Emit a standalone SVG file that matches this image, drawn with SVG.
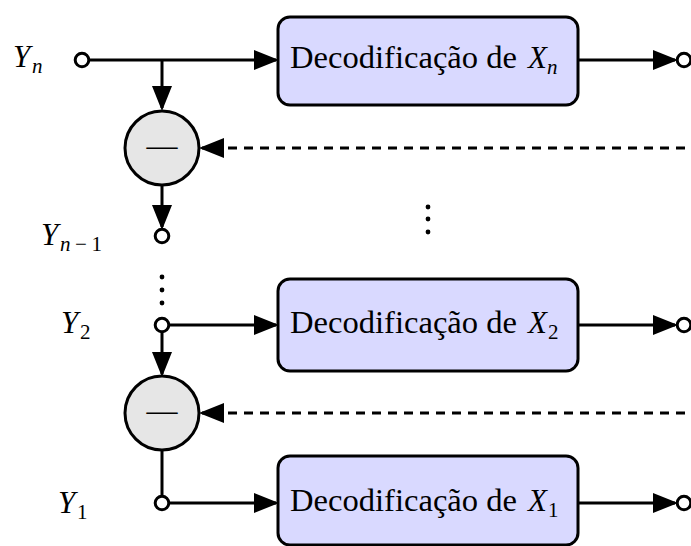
<svg xmlns="http://www.w3.org/2000/svg" width="691" height="546" viewBox="0 0 691 546">
  <defs>
    <marker id="arrow" viewBox="0 0 25 20" refX="22" refY="10" markerWidth="25" markerHeight="20" markerUnits="userSpaceOnUse" orient="auto">
      <path d="M0,0 L25,10 L0,20 Z" fill="#000"/>
    </marker>
    <style>
      .wire { stroke: #000; stroke-width: 3; fill: none; }
      .dash { stroke: #000; stroke-width: 3; fill: none; stroke-dasharray: 9 7; }
      .arr { marker-end: url(#arrow); }
      .port { fill: #fff; stroke: #000; stroke-width: 3; }
      .box { fill: #d9d9ff; stroke: #000; stroke-width: 3; }
      .sub { fill: #e6e6e6; stroke: #000; stroke-width: 3; }
      .dot { fill: #000; }
      .rm { font-family: "Liberation Serif", "DejaVu Serif", serif; font-size: 31px; fill: #000; }
      .it { font-family: "Liberation Serif", "DejaVu Serif", serif; font-style: italic; font-size: 31px; fill: #000; }
      .sc { font-family: "Liberation Serif", "DejaVu Serif", serif; font-size: 21px; fill: #000; }
      .sci { font-family: "Liberation Serif", "DejaVu Serif", serif; font-style: italic; font-size: 21px; fill: #000; }
    </style>
  </defs>

  <!-- connectors -->
  <g id="connectors">
    <line class="wire arr" x1="89" y1="60" x2="276" y2="60"/>
    <line class="wire arr" x1="162" y1="60" x2="162" y2="108"/>
    <line class="wire arr" x1="162" y1="186" x2="162" y2="227"/>
    <line class="dash arr" x1="685" y1="148" x2="202" y2="148"/>
    <line class="wire arr" x1="578" y1="60" x2="675" y2="60"/>

    <line class="wire arr" x1="169" y1="325" x2="276" y2="325"/>
    <line class="wire arr" x1="162" y1="332" x2="162" y2="374"/>
    <line class="dash arr" x1="685" y1="413" x2="202" y2="413"/>
    <line class="wire arr" x1="578" y1="325" x2="675" y2="325"/>

    <line class="wire" x1="162" y1="451" x2="162" y2="496"/>
    <line class="wire arr" x1="169" y1="503" x2="276" y2="503"/>
    <line class="wire arr" x1="578" y1="503" x2="675" y2="503"/>
  </g>

  <!-- input / output ports -->
  <g id="port-yn"><circle class="port" cx="82" cy="60" r="6.8"/></g>
  <g id="port-yn1"><circle class="port" cx="162" cy="236" r="6.8"/></g>
  <g id="port-y2"><circle class="port" cx="162" cy="325" r="6.8"/></g>
  <g id="port-y1"><circle class="port" cx="162" cy="503" r="6.8"/></g>
  <g id="out-n"><circle class="port" cx="684" cy="60" r="6.8"/></g>
  <g id="out-2"><circle class="port" cx="684" cy="325" r="6.8"/></g>
  <g id="out-1"><circle class="port" cx="684" cy="503" r="6.8"/></g>

  <!-- input labels -->
  <g id="label-yn">
    <text class="it" x="13" y="67">Y</text><text class="sci" x="32" y="73">n</text>
  </g>
  <g id="label-yn1">
    <text class="it" x="41" y="245">Y</text><text class="sci" x="60" y="251" textLength="42" lengthAdjust="spacing">n<tspan font-style="normal">−1</tspan></text>
  </g>
  <g id="label-y2">
    <text class="it" x="61" y="333">Y</text><text class="sc" x="80" y="339">2</text>
  </g>
  <g id="label-y1">
    <text class="it" x="58" y="513">Y</text><text class="sc" x="77" y="519">1</text>
  </g>

  <!-- decoder blocks -->
  <g id="dec-n">
    <rect class="box" x="278" y="17" width="300" height="88" rx="12"/>
    <text class="rm" x="290" y="68" textLength="227" lengthAdjust="spacingAndGlyphs">Decodificação de</text>
    <text class="it" x="528" y="68">X</text><text class="sci" x="547" y="74">n</text>
  </g>
  <g id="dec-2">
    <rect class="box" x="278" y="279" width="300" height="92" rx="12"/>
    <text class="rm" x="290" y="333" textLength="227" lengthAdjust="spacingAndGlyphs">Decodificação de</text>
    <text class="it" x="528" y="333">X</text><text class="sc" x="548" y="339">2</text>
  </g>
  <g id="dec-1">
    <rect class="box" x="278" y="456" width="300" height="89" rx="12"/>
    <text class="rm" x="290" y="511" textLength="227" lengthAdjust="spacingAndGlyphs">Decodificação de</text>
    <text class="it" x="528" y="511">X</text><text class="sc" x="548" y="517">1</text>
  </g>

  <!-- subtractors -->
  <g id="sub-n">
    <circle class="sub" cx="162" cy="148" r="37"/>
    <text class="rm" x="162" y="156" text-anchor="middle" font-size="29">—</text>
  </g>
  <g id="sub-2">
    <circle class="sub" cx="162" cy="413" r="37"/>
    <text class="rm" x="162" y="421" text-anchor="middle" font-size="29">—</text>
  </g>

  <!-- vertical ellipses -->
  <g id="vdots-left">
    <circle class="dot" cx="162" cy="277" r="2.4"/>
    <circle class="dot" cx="162" cy="290" r="2.4"/>
    <circle class="dot" cx="162" cy="303" r="2.4"/>
  </g>
  <g id="vdots-mid">
    <circle class="dot" cx="428" cy="207" r="2.4"/>
    <circle class="dot" cx="428" cy="219" r="2.4"/>
    <circle class="dot" cx="428" cy="232" r="2.4"/>
  </g>
</svg>
